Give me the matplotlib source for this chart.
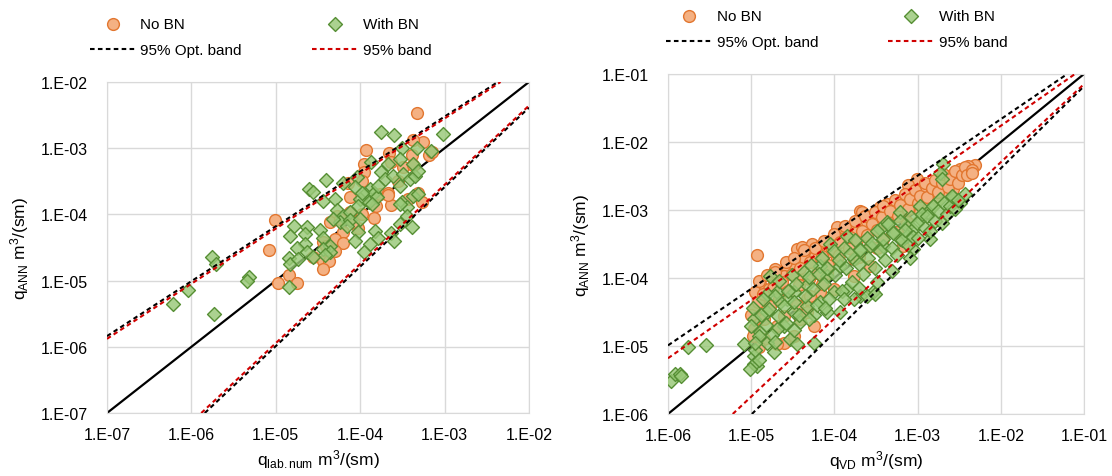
import numpy as np
import matplotlib.pyplot as plt
from matplotlib.ticker import FuncFormatter, FixedLocator

plt.rcParams['font.family'] = ['Liberation Sans', 'DejaVu Sans']
plt.rcParams['mathtext.fontset'] = 'custom'
plt.rcParams['mathtext.rm'] = 'Liberation Sans'
plt.rcParams['mathtext.it'] = 'Liberation Sans:italic'

# ---- left panel data (log10 values) ----
L_nobn_x = [-3.33, -3.93, -3.25, -3.38, -3.66, -3.39, -3.19, -3.15, -3.96, -3.49,
            -3.96, -4.15, -3.98, -3.77, -3.67, -4.12, -3.55, -3.31, -3.27, -3.63,
            -3.43, -3.84, -3.98, -4.03, -4.28, -4.36, -4.20, -4.30, -4.20, -4.44,
            -4.40, -4.30, -4.56, -4.44, -4.37, -4.44, -5.01, -5.08, -4.84, -4.97,
            -4.75, -3.37, -3.67, -3.81, -4.12, -4.08, -4.24, -3.63]
L_nobn_y = [-2.47, -3.02, -2.90, -2.88, -3.07, -3.11, -3.11, -3.06, -3.24, -3.29,
            -3.36, -3.52, -3.49, -3.69, -3.67, -3.74, -3.49, -3.67, -3.82, -3.86,
            -3.77, -4.06, -3.99, -4.21, -4.02, -4.12, -4.27, -4.37, -4.43, -4.42,
            -4.47, -4.55, -4.65, -4.70, -4.70, -4.82, -4.09, -4.54, -4.92, -5.04,
            -5.04, -3.26, -3.71, -3.87, -3.97, -4.12, -4.07, -3.21]

L_bn_x = [-3.75, -3.60, -3.02, -3.51, -3.33, -3.16, -3.87, -3.67, -3.53, -3.37,
          -3.75, -3.71, -3.61, -3.49, -3.41, -3.35, -3.31, -4.04, -4.06, -4.20,
          -4.40, -4.61, -4.56, -4.44, -4.30, -3.88, -3.94, -3.84, -4.00, -3.90,
          -3.80, -3.86, -4.02, -3.98, -3.79, -3.53, -3.51, -3.45, -3.37, -3.31,
          -3.53, -4.28, -4.20, -4.12, -4.24, -4.12, -4.00, -4.32, -4.16, -3.45,
          -3.53, -3.39, -4.79, -4.63, -4.65, -4.83, -4.48, -4.44, -4.02, -4.06,
          -3.82, -3.79, -3.88, -3.64, -3.60, -4.65, -4.75, -4.63, -4.36, -4.44,
          -4.36, -3.96, -4.84, -4.83, -4.74, -4.56, -4.42, -4.84, -5.76, -5.71,
          -5.32, -5.34, -6.04, -6.22, -5.73]
L_bn_y = [-2.75, -2.80, -2.78, -2.99, -2.99, -3.04, -3.21, -3.24, -3.16, -3.24,
          -3.36, -3.47, -3.42, -3.39, -3.47, -3.42, -3.34, -3.44, -3.59, -3.52,
          -3.48, -3.62, -3.66, -3.79, -3.77, -3.62, -3.69, -3.67, -3.77, -3.82,
          -3.74, -3.84, -3.87, -3.67, -3.57, -3.57, -3.82, -3.89, -3.72, -3.69,
          -3.84, -3.94, -4.02, -3.97, -4.12, -4.09, -4.07, -4.07, -4.17, -4.02,
          -4.14, -4.19, -4.17, -4.19, -4.30, -4.32, -4.23, -4.35, -4.27, -4.40,
          -4.25, -4.35, -4.45, -4.28, -4.40, -4.45, -4.50, -4.57, -4.47, -4.52,
          -4.57, -4.57, -4.66, -4.75, -4.67, -4.65, -4.62, -5.09, -4.65, -4.75,
          -4.94, -5.00, -5.14, -5.36, -5.50]

# ---- right panel data (log10 values) ----
R_nobn_x = [-4.93, -2.31, -2.39, -2.49, -2.57, -2.45, -2.53, -2.63, -2.67, -2.73,
            -3.01, -3.11, -2.85, -2.95, -2.83, -3.17, -3.05, -2.93, -3.27, -3.37,
            -3.45, -3.13, -2.97, -3.69, -3.67, -3.97, -3.77, -3.61, -3.53, -3.73,
            -3.85, -3.53, -3.37, -4.45, -4.39, -4.27, -4.17, -4.05, -3.93, -4.35,
            -4.23, -4.09, -4.71, -4.57, -4.47, -4.61, -4.73, -4.89, -4.79, -4.45,
            -4.97, -4.89, -4.81, -4.69, -4.49, -4.61, -4.41, -4.25, -4.33, -4.97,
            -4.85, -4.69, -3.97, -3.77, -3.57, -3.41, -3.25, -3.13, -3.77, -4.09,
            -3.57, -3.17, -2.77, -2.65, -2.57, -4.33, -4.17, -4.01,
            -4.95, -4.92, -4.90, -4.86, -4.81, -4.77, -4.74, -4.71, -4.66, -4.63,
            -4.58, -4.56, -4.51, -4.49, -4.43, -4.41, -4.37, -4.31, -4.29, -4.23,
            -4.21, -4.15, -4.13, -4.08, -4.03, -4.01, -3.95, -3.93, -3.87, -3.83,
            -3.81, -3.75, -3.73, -3.67, -3.63, -3.61, -3.55, -3.51, -3.49, -3.43,
            -3.41, -3.35, -3.33, -3.27, -3.23, -3.21, -3.15, -3.11, -3.09, -3.03,
            -2.99, -2.97, -2.91, -2.89, -2.83, -2.79, -2.75, -2.71, -2.69, -2.63,
            -2.61, -2.55, -2.51, -2.47, -2.43, -2.41, -2.35, -2.34, -4.60, -4.45,
            -4.29, -4.15, -3.70, -3.49, -4.84, -5.00, -4.98, -4.91]
R_nobn_y = [-3.66, -2.34, -2.35, -2.40, -2.47, -2.47, -2.54, -2.50, -2.59, -2.57,
            -2.54, -2.63, -2.62, -2.72, -2.72, -2.84, -2.79, -2.89, -2.94, -2.91,
            -2.96, -2.99, -3.03, -3.01, -3.03, -3.25, -3.23, -3.18, -3.13, -3.33,
            -3.38, -3.28, -3.13, -3.57, -3.55, -3.50, -3.53, -3.45, -3.43, -3.72,
            -3.67, -3.62, -3.87, -3.84, -3.82, -3.97, -4.04, -4.09, -4.16, -3.97,
            -4.46, -4.60, -4.41, -4.70, -4.85, -4.95, -4.60, -4.70, -4.50, -4.75,
            -4.90, -4.97, -3.72, -3.72, -3.53, -3.43, -3.33, -3.18, -3.97, -3.92,
            -3.82, -3.53, -2.84, -2.74, -2.69, -4.31, -4.21, -4.16,
            -4.21, -4.36, -4.04, -4.24, -3.96, -4.41, -4.14, -3.91, -4.31, -4.06,
            -3.76, -4.19, -3.94, -3.71, -4.11, -3.86, -3.59, -4.01, -3.77, -3.56,
            -3.93, -3.67, -3.46, -3.81, -3.57, -3.36, -3.66, -3.47, -3.24, -3.56,
            -3.39, -3.16, -3.44, -3.31, -3.09, -3.37, -3.21, -3.03, -3.29, -3.11,
            -2.94, -3.21, -3.01, -2.86, -3.09, -2.93, -2.77, -2.99, -2.84, -2.71,
            -2.89, -2.79, -2.61, -2.81, -2.67, -2.56, -2.73, -2.61, -2.47, -2.66,
            -2.54, -2.43, -2.61, -2.49, -2.37, -2.48, -2.41, -2.45, -4.56, -4.39,
            -4.26, -4.09, -3.69, -3.56, -4.61, -4.54, -4.86, -5.01]

R_bn_x = [-2.69, -2.73, -2.71, -2.43, -2.49, -2.57, -2.73, -2.81, -2.97, -2.87,
          -2.85, -3.05, -3.21, -3.37, -3.45, -3.29, -3.13, -3.05, -2.97, -3.21,
          -3.41, -3.13, -3.85, -4.05, -3.69, -3.57, -3.77, -3.93, -4.17, -4.09,
          -4.33, -4.49, -4.57, -4.69, -4.77, -4.81, -4.65, -4.49, -4.33, -4.17,
          -4.01, -3.85, -3.69, -3.53, -4.25, -4.41, -4.61, -4.81, -4.97, -4.89,
          -4.69, -4.53, -4.73, -4.97, -4.93, -5.09, -4.81, -3.77, -3.61, -3.51,
          -3.93, -4.09, -4.25, -4.45, -5.76, -5.54, -5.96, -5.92, -5.86, -5.84,
          -4.97,
          -5.00, -4.98, -4.95, -4.91, -4.88, -4.86, -4.82, -4.79, -4.75, -4.71,
          -4.68, -4.66, -4.61, -4.58, -4.56, -4.51, -4.48, -4.46, -4.42, -4.37,
          -4.35, -4.31, -4.28, -4.26, -4.21, -4.19, -4.15, -4.12, -4.09, -4.06,
          -4.01, -3.99, -3.95, -3.91, -3.88, -3.86, -3.81, -3.79, -3.75, -3.71,
          -3.69, -3.65, -3.61, -3.59, -3.55, -3.51, -3.49, -3.45, -3.41, -3.39,
          -3.35, -3.31, -3.29, -3.25, -3.21, -3.19, -3.15, -3.11, -3.08, -3.05,
          -3.01, -2.99, -2.95, -2.91, -2.89, -2.85, -2.81, -2.79, -2.75, -2.71,
          -2.68, -2.65, -2.61, -2.59, -2.55, -2.52, -4.90, -4.71, -4.49, -4.31,
          -4.11, -3.89, -3.71, -3.49, -3.31, -3.09, -5.02, -4.96]
R_bn_y = [-2.32, -2.45, -2.54, -2.76, -2.89, -2.81, -2.84, -2.94, -2.94, -3.03,
          -3.43, -3.57, -3.03, -3.18, -3.28, -3.33, -3.23, -3.28, -3.13, -3.43,
          -3.53, -3.38, -3.38, -3.50, -3.57, -3.53, -3.72, -3.82, -3.82, -3.97,
          -4.11, -4.21, -4.31, -4.21, -3.97, -4.24, -4.36, -4.50, -4.41, -4.36,
          -4.21, -4.16, -4.26, -4.21, -4.55, -4.65, -4.70, -4.50, -4.60, -4.80,
          -4.75, -4.90, -5.09, -5.14, -5.29, -4.97, -4.95, -4.31, -4.26, -4.24,
          -4.50, -4.50, -4.95, -4.97, -5.02, -4.98, -5.51, -5.41, -5.41, -5.44,
          -5.26,
          -4.71, -4.44, -5.06, -4.86, -4.54, -4.31, -4.69, -4.46, -4.84, -4.26,
          -4.56, -4.04, -4.41, -4.66, -4.19, -3.96, -4.36, -4.09, -4.54, -3.91,
          -4.26, -3.99, -3.81, -4.16, -4.39, -3.94, -3.71, -4.09, -3.86, -4.31,
          -3.61, -3.96, -3.74, -4.19, -3.56, -3.86, -3.64, -4.06, -3.44, -3.79,
          -3.59, -3.94, -3.41, -3.71, -3.49, -3.86, -3.31, -3.61, -3.43, -3.74,
          -3.21, -3.56, -3.34, -3.66, -3.16, -3.44, -3.29, -3.51, -3.11, -3.39,
          -3.19, -3.41, -3.06, -3.26, -3.09, -3.31, -2.94, -3.16, -3.01, -3.19,
          -2.89, -3.06, -2.94, -2.79, -2.99, -2.86, -5.21, -4.94, -4.76, -4.61,
          -4.44, -4.31, -4.14, -4.06, -3.89, -3.71, -5.34, -4.96]

# band lines: two end points each (x, y)
L_opt_up = ([1e-7, 4.27e-3], [1.45e-6, 1e-2])
L_opt_lo = ([1.44e-6, 1e-2], [1e-7, 4.1e-3])
L_band_up = ([1e-7, 4.6e-3], [1.32e-6, 1e-2])
L_band_lo = ([1.31e-6, 1e-2], [1e-7, 4.4e-3])
R_opt_up = ([1e-6, 0.063], [1.02e-5, 0.1])
R_opt_lo = ([1.02e-5, 0.1], [1e-6, 0.066])
R_band_up = ([1e-6, 0.078], [6.6e-6, 0.1])
R_band_lo = ([6.0e-6, 0.1], [1e-6, 0.071])

orange_face = '#F4B183'
orange_edge = '#E2762F'
green_face = (0.60, 0.79, 0.47, 0.82)
green_edge = '#568F34'


def fmt(v, pos):
    e = int(round(np.log10(v)))
    return "1.E-%02d" % abs(e) if e < 0 else "1.E+%02d" % e


fig = plt.figure(figsize=(11.12, 4.77), dpi=100)
ax1 = fig.add_axes([0.0962, 0.132, 0.3795, 0.694])
ax2 = fig.add_axes([0.6007, 0.130, 0.3741, 0.7128])

panels = [
    (ax1, (1e-7, 1e-2), L_nobn_x, L_nobn_y, L_bn_x, L_bn_y,
     L_opt_up, L_opt_lo, L_band_up, L_band_lo,
     r'q$_\mathrm{lab.num}$ m$^\mathrm{3}$/(sm)', 0.081, 0.962),
    (ax2, (1e-6, 1e-1), R_nobn_x, R_nobn_y, R_bn_x, R_bn_y,
     R_opt_up, R_opt_lo, R_band_up, R_band_lo,
     r'q$_\mathrm{VD}$ m$^\mathrm{3}$/(sm)', 0.599, 0.979),
]

for (ax, lim, nx, ny, bx, by, ou, ol, bu, bl, xlab, lx, ly) in panels:
    ax.set_xscale('log')
    ax.set_yscale('log')
    ax.set_xlim(lim)
    ax.set_ylim(lim)
    dec = 10.0 ** np.arange(np.log10(lim[0]), np.log10(lim[1]) + 1)
    ax.xaxis.set_major_locator(FixedLocator(dec))
    ax.yaxis.set_major_locator(FixedLocator(dec))
    ax.xaxis.set_minor_locator(FixedLocator([]))
    ax.yaxis.set_minor_locator(FixedLocator([]))
    ax.xaxis.set_major_formatter(FuncFormatter(fmt))
    ax.yaxis.set_major_formatter(FuncFormatter(fmt))
    ax.tick_params(length=0, labelsize=11.5)
    ax.tick_params(axis='x', pad=10)
    ax.tick_params(axis='y', pad=14)
    ax.grid(True, color='#D9D9D9', lw=1)
    ax.set_axisbelow(True)
    for s in ax.spines.values():
        s.set_color('#D9D9D9')

    ax.plot(lim, lim, color='black', lw=1.6, zorder=2)
    p1 = ax.scatter(10.0 ** np.array(nx), 10.0 ** np.array(ny), s=72, marker='o',
                    facecolor=orange_face, edgecolor=orange_edge, lw=1, zorder=3,
                    label='No BN')
    p2 = ax.scatter(10.0 ** np.array(bx), 10.0 ** np.array(by), s=50, marker='D',
                    facecolor=green_face, edgecolor=green_edge, lw=1, zorder=4,
                    label='With BN')
    l1, = ax.plot(*ou, color='black', lw=1.5, dashes=(2.2, 1.6), zorder=5,
                  label='95% Opt. band')
    ax.plot(*ol, color='black', lw=1.5, dashes=(2.2, 1.6), zorder=5)
    l2, = ax.plot(*bu, color='#D00000', lw=1.5, dashes=(2.2, 1.6), zorder=5,
                  label='95% band')
    ax.plot(*bl, color='#D00000', lw=1.5, dashes=(2.2, 1.6), zorder=5)

    ax.set_xlabel(xlab, fontsize=12.5, labelpad=4)
    ax.set_ylabel(r'q$_\mathrm{ANN}$ m$^\mathrm{3}$/(sm)', fontsize=12.5, labelpad=7)

    fig.legend([p1, l1, p2, l2], ['No BN', '95% Opt. band', 'With BN', '95% band'],
               ncol=2, loc='upper left', bbox_to_anchor=(lx, ly), frameon=False,
               fontsize=11, handlelength=3, handletextpad=0.3, borderpad=0,
               borderaxespad=0, columnspacing=4.6, labelspacing=0.8,
               scatterpoints=1)

fig.savefig('out.png', dpi=100)
